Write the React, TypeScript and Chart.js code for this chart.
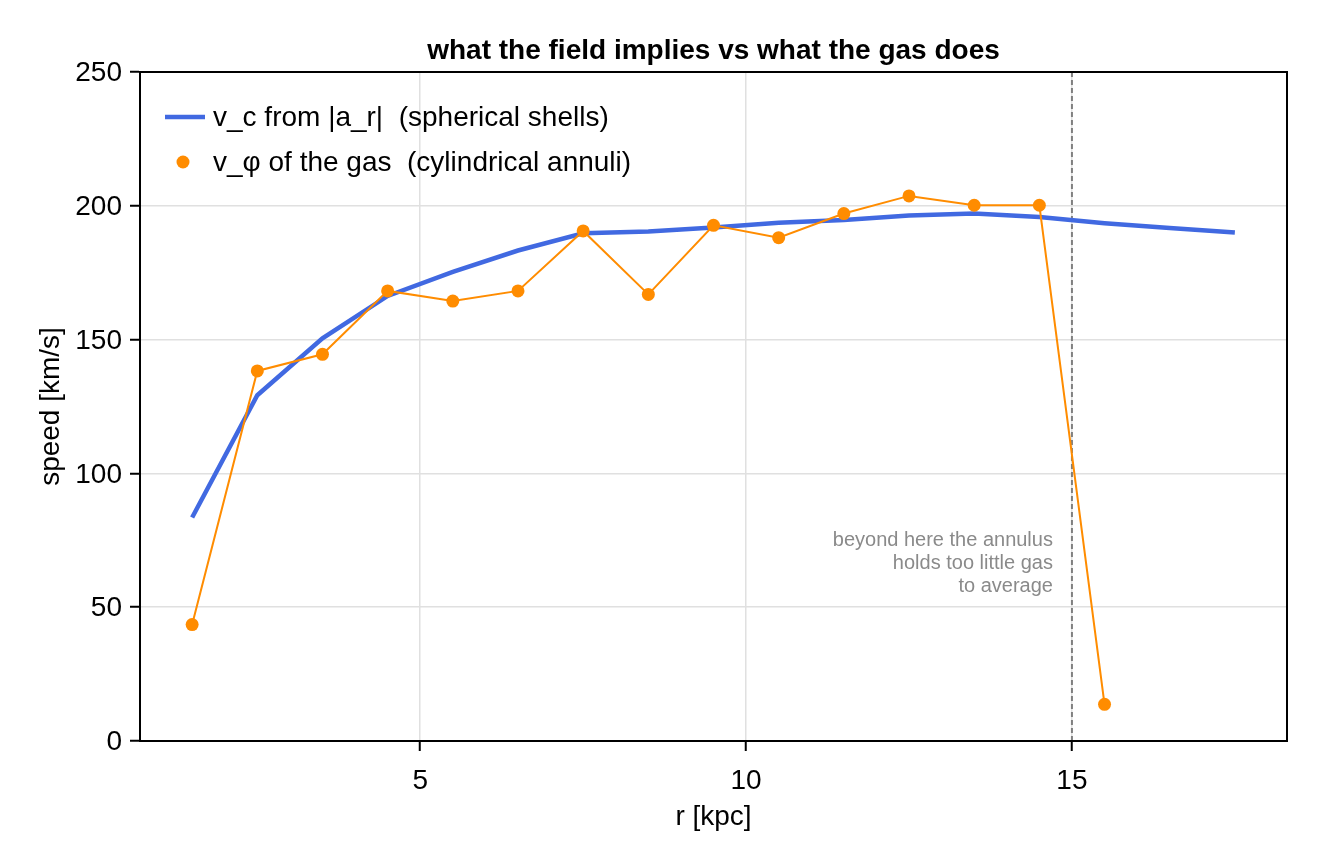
import { useEffect, useRef } from 'react'
import { Chart, registerables } from 'chart.js'

Chart.register(...registerables)

// radius of each shell / annulus centre [kpc]
const rShells = [1.5, 2.5, 3.5, 4.5, 5.5, 6.5, 7.5, 8.5, 9.5, 10.5, 11.5, 12.5, 13.5, 14.5, 15.5, 16.5, 17.5]
const vCircular = [83.5, 129.2, 150.5, 166.3, 175.3, 183.3, 189.7, 190.4, 191.9, 193.7, 194.7, 196.4, 197.1, 195.8, 193.5, 191.7, 190.0]

const rAnnuli = [1.5, 2.5, 3.5, 4.5, 5.5, 6.5, 7.5, 8.5, 9.5, 10.5, 11.5, 12.5, 13.5, 14.5, 15.5]
const vPhiGas = [43.5, 138.3, 144.5, 168.2, 164.4, 168.2, 190.6, 166.9, 192.7, 188.1, 197.1, 203.7, 200.2, 200.2, 13.7]

const cutoffR = 15
const noteLines = ['beyond here the annulus', 'holds too little gas', 'to average']
const legendLabels = ['v_c from |a_r|  (spherical shells)', 'v_φ of the gas  (cylindrical annuli)']

const BLUE = '#4169E1'
const ORANGE = '#FF8C00'
const FONT = "'Liberation Sans', Arial, Helvetica, sans-serif"

const overlay = {
  id: 'overlay',
  beforeDatasetsDraw(chart: Chart) {
    const { ctx, chartArea } = chart
    const x = chart.scales.x.getPixelForValue(cutoffR)
    ctx.save()
    ctx.strokeStyle = '#808080'
    ctx.lineWidth = 2
    ctx.setLineDash([5, 3])
    ctx.beginPath()
    ctx.moveTo(x, chartArea.top)
    ctx.lineTo(x, chartArea.bottom)
    ctx.stroke()
    ctx.restore()
  },
  afterDraw(chart: Chart) {
    const { ctx, chartArea } = chart
    ctx.save()
    // frame
    ctx.strokeStyle = '#000'
    ctx.lineWidth = 2
    ctx.strokeRect(chartArea.left, chartArea.top, chartArea.right - chartArea.left, chartArea.bottom - chartArea.top)

    // note next to the cut-off line
    const x = chart.scales.x.getPixelForValue(cutoffR)
    ctx.fillStyle = '#8a8a8a'
    ctx.font = `20px ${FONT}`
    ctx.textAlign = 'right'
    ctx.textBaseline = 'middle'
    noteLines.forEach((t, i) => ctx.fillText(t, x - 19, 540 + i * 23))

    // legend
    const lx = chartArea.left
    const ty = chartArea.top
    ctx.strokeStyle = BLUE
    ctx.lineWidth = 4.5
    ctx.beginPath()
    ctx.moveTo(lx + 25, ty + 45)
    ctx.lineTo(lx + 65, ty + 45)
    ctx.stroke()
    ctx.fillStyle = ORANGE
    ctx.beginPath()
    ctx.arc(lx + 43, ty + 90, 6.5, 0, Math.PI * 2)
    ctx.fill()
    ctx.fillStyle = '#000'
    ctx.font = `28px ${FONT}`
    ctx.textAlign = 'left'
    legendLabels.forEach((t, i) => ctx.fillText(t, lx + 73, ty + 46 + i * 45))
    ctx.restore()
  },
}

export default function App() {
  const canvasRef = useRef<HTMLCanvasElement>(null)

  useEffect(() => {
    if (!canvasRef.current) return
    const chart = new Chart(canvasRef.current, {
      type: 'scatter',
      data: {
        datasets: [
          {
            label: legendLabels[0],
            data: rShells.map((r, i) => ({ x: r, y: vCircular[i] })),
            showLine: true,
            borderColor: BLUE,
            borderWidth: 4.5,
            pointRadius: 0,
            order: 2,
          },
          {
            label: legendLabels[1],
            data: rAnnuli.map((r, i) => ({ x: r, y: vPhiGas[i] })),
            showLine: true,
            borderColor: ORANGE,
            borderWidth: 2,
            backgroundColor: ORANGE,
            pointRadius: 6.5,
            pointBorderWidth: 0,
            order: 1,
          },
        ],
      },
      options: {
        animation: false,
        responsive: true,
        maintainAspectRatio: false,
        layout: { padding: { left: 0, right: 33, top: 0, bottom: 0 } },
        plugins: {
          legend: { display: false },
          tooltip: { enabled: false },
          title: {
            display: true,
            fullSize: false,
            text: 'what the field implies vs what the gas does',
            color: '#000',
            font: { family: FONT, size: 28, weight: 'bold', lineHeight: 1.2 },
            padding: { top: 34.4, bottom: 4 },
          },
        },
        scales: {
          x: {
            type: 'linear',
            min: 0.7,
            max: 18.3,
            afterFit(scale: any) { scale.height = 119 },
            ticks: {
              stepSize: 5,
              includeBounds: false,
              color: '#000',
              padding: 13,
              font: { family: FONT, size: 28 },
            },
            grid: { color: '#e0e0e0', lineWidth: 1.5, tickColor: '#000', tickWidth: 2, tickLength: 10 },
            border: { display: true, color: '#000', width: 2 },
            title: {
              display: true,
              text: 'r [kpc]',
              color: '#000',
              font: { family: FONT, size: 28, lineHeight: 1.2 },
              padding: { top: 0, bottom: 26 },
            },
          },
          y: {
            type: 'linear',
            min: 0,
            max: 250,
            afterFit(scale: any) { scale.width = 140 },
            ticks: {
              stepSize: 50,
              color: '#000',
              padding: 8,
              labelOffset: 1.5,
              font: { family: FONT, size: 28 },
            },
            grid: { color: '#e0e0e0', lineWidth: 1.5, tickColor: '#000', tickWidth: 2, tickLength: 10 },
            border: { display: true, color: '#000', width: 2 },
            title: {
              display: true,
              text: 'speed [km/s]',
              color: '#000',
              font: { family: FONT, size: 28, lineHeight: 1.2 },
              padding: { top: 34, bottom: 0 },
            },
          },
        },
      },
      plugins: [overlay],
    })
    return () => { chart.destroy() }
  }, [])

  return (
    <div style={{ position: 'fixed', left: 0, top: 0, width: 1320, height: 860, background: '#fff' }}>
      <canvas ref={canvasRef} />
    </div>
  )
}
